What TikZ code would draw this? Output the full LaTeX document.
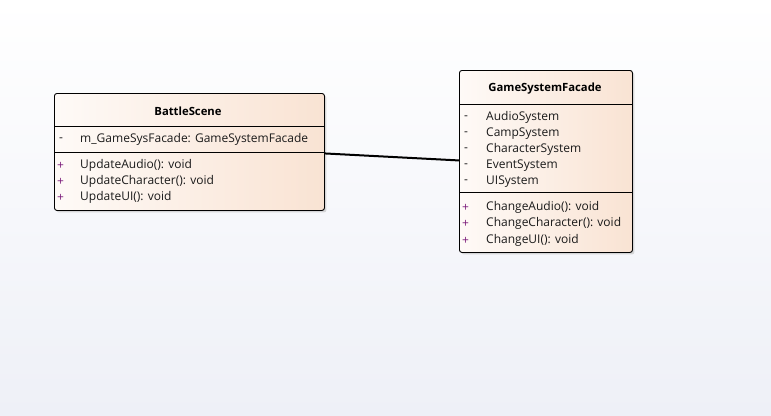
\documentclass[tikz,border=0pt]{standalone}
\usepackage{fontspec}
\setmainfont{Open Sans}
\usetikzlibrary{shadows}
\definecolor{boxleft}{HTML}{FEFAF7}
\definecolor{boxright}{HTML}{F9E3D3}
\definecolor{bgbottom}{HTML}{EEF0F7}
\definecolor{plusvis}{HTML}{7A1A7A}
\definecolor{membertext}{HTML}{1A1A1A}
\begin{document}
\begin{tikzpicture}[x=1pt, y=-1pt,
    classbox/.style={rectangle, draw, line width=0.9pt, rounded corners=2.5pt, anchor=north west,
        left color=boxleft, right color=boxright, inner sep=0pt,
        drop shadow={shadow xshift=2pt, shadow yshift=-2pt, fill=black!25, opacity=0.6}},
    classname/.style={font=\bfseries\fontsize{11.3}{13}\selectfont},
    member/.style={anchor=west, inner sep=0pt, yshift=-1.5pt, text=membertext, font=\fontsize{12}{14}\selectfont},
    vis/.style={member},
    plus/.style={vis, text=plusvis},
    assoc/.style={line width=2pt}
]
% background
\fill[top color=white, bottom color=bgbottom] (0,0) rectangle (771,415);
\useasboundingbox (0,0) rectangle (771,415);

% BattleScene
\node[classbox, minimum width=270pt, minimum height=117pt] (bs) at (54,93) {};
\node[classname] (bsName) at (188,111) {BattleScene};
\draw[line width=0.8pt] (54,126) -- (324,126);
\draw[line width=0.8pt] (54,152) -- (324,152);
\node[vis] (bsA1v) at (59,138) {-};
\node[member] (bsA1) at (80,138) {m\_GameSysFacade: GameSystemFacade};
\node[plus] (bsO1v) at (57,164) {+};
\node[member] (bsO1) at (80,164) {UpdateAudio(): void};
\node[plus] (bsO2v) at (57,180) {+};
\node[member] (bsO2) at (80,180) {UpdateCharacter(): void};
\node[plus] (bsO3v) at (57,196) {+};
\node[member] (bsO3) at (80,196) {UpdateUI(): void};

% GameSystemFacade
\node[classbox, minimum width=173pt, minimum height=182pt] (gsf) at (459,70) {};
\node[classname] (gsfName) at (545,89) {GameSystemFacade};
\draw[line width=0.8pt] (459,104) -- (632,104);
\draw[line width=0.8pt] (459,192) -- (632,192);
\node[vis] (gsfA1v) at (464,116) {-};
\node[member] (gsfA1) at (486,116) {AudioSystem};
\node[vis] (gsfA2v) at (464,132) {-};
\node[member] (gsfA2) at (486,132) {CampSystem};
\node[vis] (gsfA3v) at (464,148) {-};
\node[member] (gsfA3) at (486,148) {CharacterSystem};
\node[vis] (gsfA4v) at (464,164) {-};
\node[member] (gsfA4) at (486,164) {EventSystem};
\node[vis] (gsfA5v) at (464,180) {-};
\node[member] (gsfA5) at (486,180) {UISystem};
\node[plus] (gsfO1v) at (462,206) {+};
\node[member] (gsfO1) at (486,206) {ChangeAudio(): void};
\node[plus] (gsfO2v) at (462,222) {+};
\node[member] (gsfO2) at (486,222) {ChangeCharacter(): void};
\node[plus] (gsfO3v) at (462,239) {+};
\node[member] (gsfO3) at (486,239) {ChangeUI(): void};

% association
\draw[assoc] ([yshift=-1.5pt]bs.east) -- ([yshift=1pt]gsf.west);
\end{tikzpicture}
\end{document}
